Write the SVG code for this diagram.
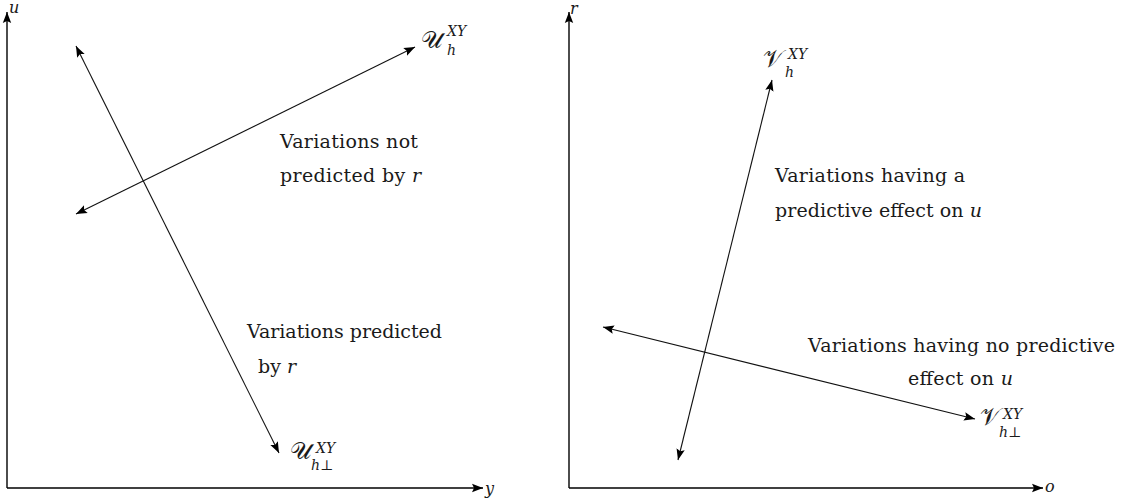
<svg xmlns="http://www.w3.org/2000/svg" width="1129" height="498" viewBox="0 0 1129 498">
<style>
.ax{stroke:#000;stroke-width:1.4;fill:none}
.ln{stroke:#111;stroke-width:1.1;fill:none}
.t{font-family:"DejaVu Serif","Liberation Serif",serif;font-size:19px;fill:#1a1a1a}
.i{font-style:italic}
.m{font-family:"DejaVu Serif","Liberation Serif",serif;font-style:italic;fill:#1a1a1a}
.c{font-family:"DejaVu Serif","DejaVu Sans","Noto Sans",serif;font-size:24px;fill:#1a1a1a}
.s{font-family:"DejaVu Serif","Liberation Serif",serif;font-style:italic;font-size:14px;fill:#1a1a1a}
</style>
<defs>
<marker id="ah" markerUnits="userSpaceOnUse" markerWidth="12" markerHeight="10" refX="11" refY="5" orient="auto-start-reverse" viewBox="0 0 12 10">
<path d="M0,0.8 L11,5 L0,9.2 L2,5 Z" fill="#000"/>
</marker>
</defs>
<g id="connectors">
<line class="ax" x1="7" y1="488" x2="7" y2="12" marker-end="url(#ah)"/>
<line class="ax" x1="7" y1="488" x2="483" y2="488" marker-end="url(#ah)"/>
<line class="ax" x1="569" y1="488" x2="569" y2="12" marker-end="url(#ah)"/>
<line class="ax" x1="569" y1="488" x2="1043" y2="488" marker-end="url(#ah)"/>
<line class="ln" x1="76" y1="214" x2="415" y2="47" marker-start="url(#ah)" marker-end="url(#ah)"/>
<line class="ln" x1="76" y1="46" x2="279" y2="453" marker-start="url(#ah)" marker-end="url(#ah)"/>
<line class="ln" x1="678" y1="460" x2="772" y2="80" marker-start="url(#ah)" marker-end="url(#ah)"/>
<line class="ln" x1="603" y1="327" x2="975" y2="419" marker-start="url(#ah)" marker-end="url(#ah)"/>
</g>
<g id="axis-u"><text class="m" x="9" y="13" font-size="16">u</text></g>
<g id="axis-y"><text class="m" x="485" y="494" font-size="16">y</text></g>
<g id="axis-r"><text class="m" x="570" y="14" font-size="16">r</text></g>
<g id="axis-o"><text class="m" x="1045" y="492" font-size="16">o</text></g>
<g id="label-Uh">
<text class="c" x="421" y="48">𝒰</text>
<text class="s" x="447" y="36">XY</text>
<text class="s" x="447" y="55">h</text>
</g>
<g id="label-Uhp">
<text class="c" x="290" y="459">𝒰</text>
<text class="s" x="316" y="453">XY</text>
<text class="s" x="311" y="470">h⊥</text>
</g>
<g id="label-Vh">
<text class="c" x="763" y="67">𝒱</text>
<text class="s" x="788" y="59">XY</text>
<text class="s" x="785" y="77">h</text>
</g>
<g id="label-Vhp">
<text class="c" x="980" y="425">𝒱</text>
<text class="s" x="1003" y="419">XY</text>
<text class="s" x="999" y="437">h⊥</text>
</g>
<g id="note-not-predicted">
<text class="t" x="280" y="148" textLength="138" lengthAdjust="spacing">Variations not</text>
<text class="t" x="280" y="182" textLength="141" lengthAdjust="spacing">predicted by <tspan class="i">r</tspan></text>
</g>
<g id="note-predicted">
<text class="t" x="247" y="338" textLength="195" lengthAdjust="spacing">Variations predicted</text>
<text class="t" x="258" y="373">by <tspan class="i">r</tspan></text>
</g>
<g id="note-having">
<text class="t" x="775" y="182" textLength="190" lengthAdjust="spacing">Variations having a</text>
<text class="t" x="775" y="217" textLength="207" lengthAdjust="spacing">predictive effect on <tspan class="i">u</tspan></text>
</g>
<g id="note-no-effect">
<text class="t" x="808" y="352" textLength="307" lengthAdjust="spacing">Variations having no predictive</text>
<text class="t" x="908" y="385" textLength="105" lengthAdjust="spacing">effect on <tspan class="i">u</tspan></text>
</g>
</svg>
